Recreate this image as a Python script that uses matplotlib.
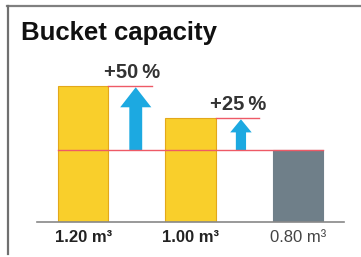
import matplotlib.pyplot as plt
from matplotlib.lines import Line2D
from matplotlib.patches import FancyArrow

plt.rcParams['font.family'] = ['Liberation Sans', 'DejaVu Sans']

# data
labels = ['1.20 m³', '1.00 m³', '0.80 m³']
capacity = [1.20, 1.00, 0.80]
bar_colors = ['#f9cf2b', '#f9cf2b', '#6f7f89']
edge_colors = ['#e3a81a', '#e3a81a', '#6f7f89']

base = capacity[-1]
gain = [round((c / base - 1) * 100) for c in capacity[:-1]]

fig = plt.figure(figsize=(3.61, 2.57), dpi=100)
ax = fig.add_axes([37 / 361, 1 - 222 / 257, 307 / 361, 162 / 257])

x = list(range(len(capacity)))
w = 0.47
ax.bar(x, capacity, width=w, color=bar_colors, edgecolor=edge_colors,
       linewidth=0.8, zorder=2)

red = '#ee5a66'
# reference line at the smallest bucket
ax.plot([x[0] - w / 2, x[-1] + w / 2], [base, base], color=red, lw=1.0, zorder=3)

arrow_w = [0.12, 0.095]
head_w = [0.29, 0.20]
head_l = [0.125, 0.082]
for i in range(len(gain)):
    xa = x[i] + 0.49 - 0.02 * i
    ax.plot([x[i] + w / 2, x[i] + 0.64], [capacity[i], capacity[i]],
            color=red, lw=1.0, zorder=3)
    ax.add_patch(FancyArrow(xa, base, 0, capacity[i] - base - 0.008,
                            width=arrow_w[i], head_width=head_w[i],
                            head_length=head_l[i], length_includes_head=True,
                            color='#1ca9e1', lw=0, zorder=2))
    ax.annotate('+%d\u2009%%' % gain[i], (xa - 0.03, capacity[i]),
                xytext=(0, 9.5), textcoords='offset points', ha='center',
                va='center', fontsize=14.5, fontweight='bold', color='#333333')

ax.set_xlim(-0.43, 2.43)
ax.set_ylim(0.35, 1.3625)
ax.set_xticks(x)
ax.set_xticklabels(labels, fontsize=12, color='#222222')
for t, wt, c in zip(ax.get_xticklabels(), ['bold', 'bold', 'normal'],
                    ['#222222', '#222222', '#444444']):
    t.set_fontweight(wt)
    t.set_color(c)
ax.tick_params(axis='x', length=0, pad=6)
ax.set_yticks([])
for s in ['top', 'right', 'left']:
    ax.spines[s].set_visible(False)
ax.spines['bottom'].set_color('#888888')
ax.spines['bottom'].set_linewidth(1.2)

fig.text(21 / 361, 1 - 33 / 257, 'Bucket capacity', fontsize=18.5,
         fontweight='bold', va='center', ha='left', color='#111111')

# frame around the panel
fig.add_artist(Line2D([7 / 361, 1], [1 - 6 / 257, 1 - 6 / 257],
                      transform=fig.transFigure, color='#808080', lw=1.6))
fig.add_artist(Line2D([8 / 361, 8 / 361], [1 - 6 / 257, 1 - 254 / 257],
                      transform=fig.transFigure, color='#707070', lw=1.6))

fig.savefig('out.png', dpi=100)
